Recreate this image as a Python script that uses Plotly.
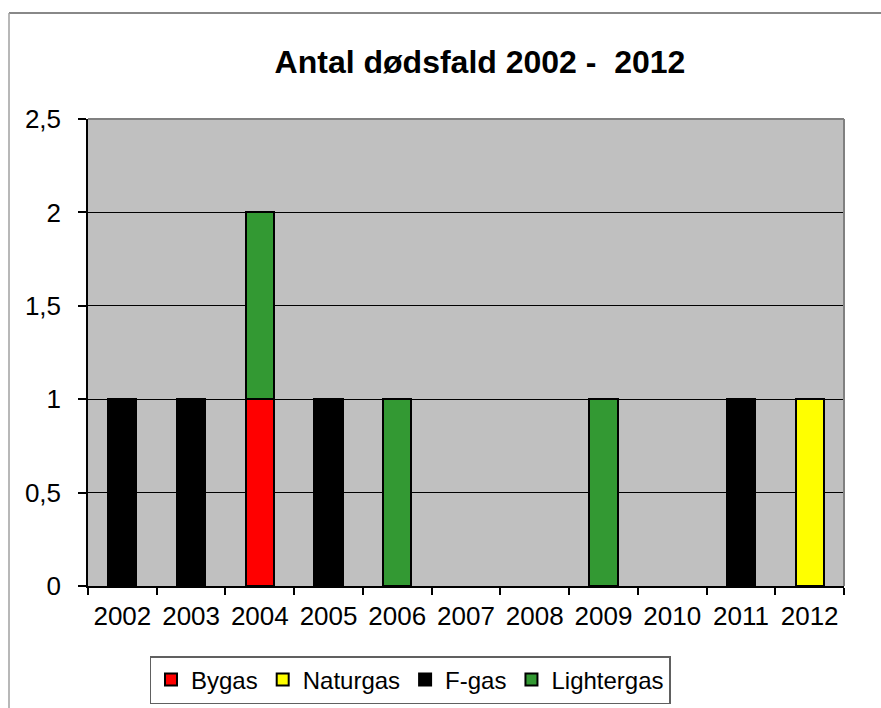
import plotly.graph_objects as go

years = ["2002", "2003", "2004", "2005", "2006", "2007", "2008", "2009", "2010", "2011", "2012"]
bygas      = [0, 0, 1, 0, 0, 0, 0, 0, 0, 0, 0]
naturgas   = [0, 0, 0, 0, 0, 0, 0, 0, 0, 0, 1]
fgas       = [1, 1, 0, 1, 0, 0, 0, 0, 0, 1, 0]
lightergas = [0, 0, 1, 0, 1, 0, 0, 1, 0, 0, 0]

series = [
    ("Bygas", bygas, "#FF0000"),
    ("Naturgas", naturgas, "#FFFF00"),
    ("F-gas", fgas, "#000000"),
    ("Lightergas", lightergas, "#339933"),
]

W, H = 881, 708
L, R, T, B = 88, 37, 119, 122
pw, ph = W - L - R, H - T - B

fig = go.Figure()
for name, vals, col in series:
    fig.add_trace(go.Bar(
        x=years, y=[v if v else None for v in vals], name=name,
        marker=dict(color=col, line=dict(color="#000000", width=2)),
    ))

def px_x(x):
    return (x - L) / pw

def px_y(y):
    return (H - B - y) / ph

fig.update_layout(
    width=W, height=H,
    margin=dict(l=L, r=R, t=T, b=B, autoexpand=False),
    barmode="stack",
    bargap=0.59,
    separators=",.",
    paper_bgcolor="white",
    plot_bgcolor="#C0C0C0",
    font=dict(family="Liberation Sans, Arial, sans-serif", color="#000000"),
    title=dict(
        text="<b>Antal dødsfald 2002 - \u00a02012</b>",
        font=dict(size=32, color="#000000"),
        x=px_x(480), xref="paper", xanchor="center",
        y=1 - 62 / H, yref="container", yanchor="middle",
    ),
    xaxis=dict(
        type="category",
        automargin=False,
        showgrid=False,
        showline=True, linecolor="#000000", linewidth=1.5,
        ticks="outside", ticklen=7, tickcolor="#000000", tickwidth=1.5,
        tickson="boundaries",
        tickfont=dict(size=26),
        ticklabelstandoff=6,
    ),
    yaxis=dict(
        range=[0, 2.5], dtick=0.5, tick0=0,
        automargin=False,
        showgrid=True, gridcolor="#000000", gridwidth=1,
        zeroline=False,
        showline=True, linecolor="#000000", linewidth=1.5,
        ticks="outside", ticklen=8, tickcolor="#000000", tickwidth=1.5,
        tickfont=dict(size=26),
        ticklabelstandoff=12,
    ),
    showlegend=True,
    legend=dict(
        orientation="h",
        x=px_x(410), xanchor="center",
        y=px_y(704), yanchor="bottom",
        bordercolor="#606060", borderwidth=1.5,
        font=dict(size=24),
        itemwidth=30,
        traceorder="normal",
        tracegroupgap=0,
    ),
    shapes=[
        dict(type="line", xref="paper", yref="paper", x0=0, x1=1, y0=1, y1=1,
             line=dict(color="#808080", width=2), layer="above"),
        dict(type="line", xref="paper", yref="paper", x0=1, x1=1, y0=0, y1=1,
             line=dict(color="#808080", width=2), layer="above"),
        dict(type="line", xref="paper", yref="paper",
             x0=px_x(9), x1=px_x(W + 5), y0=px_y(13), y1=px_y(13),
             line=dict(color="#606060", width=1.5)),
        dict(type="line", xref="paper", yref="paper",
             x0=px_x(9), x1=px_x(9), y0=px_y(13), y1=px_y(H + 5),
             line=dict(color="#A0A0A0", width=1.5)),
    ],
)

fig.write_html("out.html", config={"displayModeBar": False},
               post_script="document.body.style.margin='0';")
